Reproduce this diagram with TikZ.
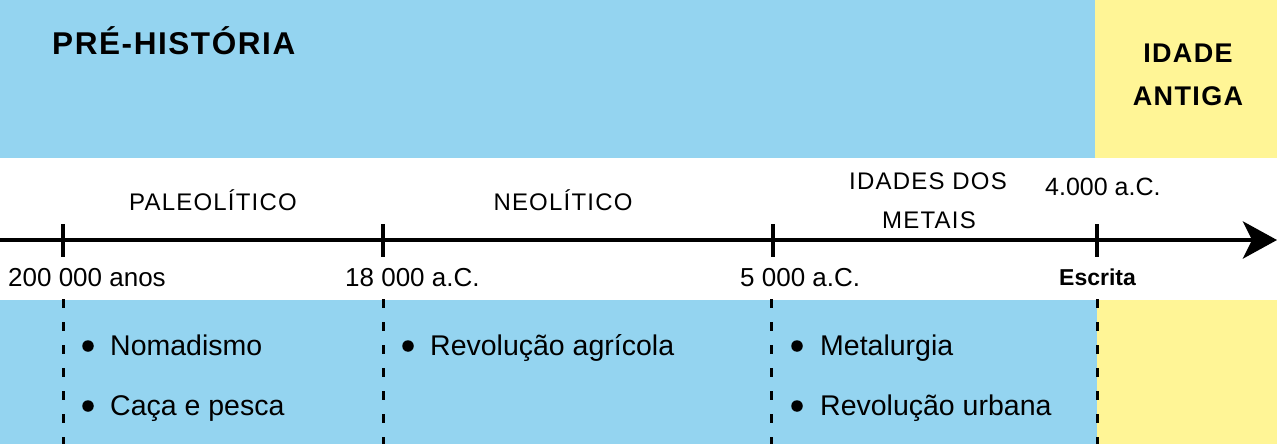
\documentclass[tikz,border=0pt]{standalone}
\usepackage{fontspec}
\setmainfont{Liberation Sans}
\newfontfamily\trackfont[LetterSpace=5]{Liberation Sans}
\usetikzlibrary{arrows.meta}
\definecolor{skyband}{RGB}{148,212,240}
\definecolor{paleyellow}{RGB}{255,245,150}
\tikzset{
  bigtitle/.style={font=\trackfont\bfseries\fontsize{31.5}{36}\selectfont, inner sep=0pt},
  agetitle/.style={font=\trackfont\bfseries\fontsize{27}{32}\selectfont, inner sep=0pt},
  period/.style={font=\trackfont\fontsize{24}{28}\selectfont, inner sep=0pt},
  datelbl/.style={font=\fontsize{26}{30}\selectfont, inner sep=0pt, anchor=base west},
  item/.style={font=\fontsize{28.5}{32}\selectfont, inner sep=0pt, anchor=base west},
  dot/.style={circle, fill=black, minimum size=11.5pt, inner sep=0pt},
  tick/.style={line width=4pt},
  divider/.style={line width=3pt, dash pattern=on 9pt off 14pt}
}
\begin{document}
\begin{tikzpicture}[x=1pt,y=-1pt]
\useasboundingbox (0,0) rectangle (1277,444);
% backgrounds
\fill[skyband] (0,0) rectangle (1095,158);
\fill[paleyellow] (1095,0) rectangle (1277,158);
\fill[white] (0,158) rectangle (1277,300);
\fill[skyband] (0,300) rectangle (1097,444);
\fill[paleyellow] (1097,300) rectangle (1277,444);
% titles
\node[bigtitle, anchor=base west] (pre) at (52,55) {PRÉ-HISTÓRIA};
\node[agetitle, anchor=base] (idade) at (1188,63) {IDADE};
\node[agetitle, anchor=base] (antiga) at (1188,106) {ANTIGA};
% period names
\node[period, anchor=base] (paleo) at (213,210) {PALEOLÍTICO};
\node[period, anchor=base] (neo) at (563,210) {NEOLÍTICO};
\node[period, anchor=base] (metais1) at (928,189) {IDADES DOS};
\node[period, anchor=base] (metais2) at (929,228) {METAIS};
\node[datelbl, font=\fontsize{25}{30}\selectfont] (d4000) at (1045,195) {4.000 a.C.};
% axis
\coordinate (axL) at (0,240);
\coordinate (axR) at (1277,240);
\draw[line width=4.5pt, -{Stealth[length=34pt,width=37pt,inset=9pt]}] (axL) -- (axR);
% ticks
\coordinate (t1a) at (63,224); \coordinate (t1b) at (63,257);
\coordinate (t2a) at (383,224); \coordinate (t2b) at (383,257);
\coordinate (t3a) at (773,224); \coordinate (t3b) at (773,257);
\coordinate (t4a) at (1097,224); \coordinate (t4b) at (1097,257);
\draw[tick] (t1a) -- (t1b);
\draw[tick] (t2a) -- (t2b);
\draw[tick] (t3a) -- (t3b);
\draw[tick] (t4a) -- (t4b);
% dates
\node[datelbl] (d200) at (8,286) {200 000 anos};
\node[datelbl] (d18) at (345,286) {18 000 a.C.};
\node[datelbl] (d5) at (740,286) {5 000 a.C.};
\node[datelbl, font=\bfseries\fontsize{23}{28}\selectfont] (escrita) at (1059,285) {Escrita};
% dashed dividers
\coordinate (v1a) at (63,299); \coordinate (v1b) at (63,444);
\coordinate (v2a) at (383,299); \coordinate (v2b) at (383,444);
\coordinate (v3a) at (771,299); \coordinate (v3b) at (771,444);
\coordinate (v4a) at (1097,299); \coordinate (v4b) at (1097,444);
\draw[divider] (v1a) -- (v1b);
\draw[divider] (v2a) -- (v2b);
\draw[divider] (v3a) -- (v3b);
\draw[divider] (v4a) -- (v4b);
% bullet items
\node[dot] (b1) at (88,346) {};
\node[item] (nomad) at (110,355) {Nomadismo};
\node[dot] (b2) at (88,406) {};
\node[item] (caca) at (110,415) {Caça e pesca};
\node[dot] (b3) at (408,346) {};
\node[item] (agri) at (430,355) {Revolução agrícola};
\node[dot] (b4) at (797,346) {};
\node[item] (metal) at (820,355) {Metalurgia};
\node[dot] (b5) at (797,406) {};
\node[item] (urb) at (820,415) {Revolução urbana};
\end{tikzpicture}
\end{document}
